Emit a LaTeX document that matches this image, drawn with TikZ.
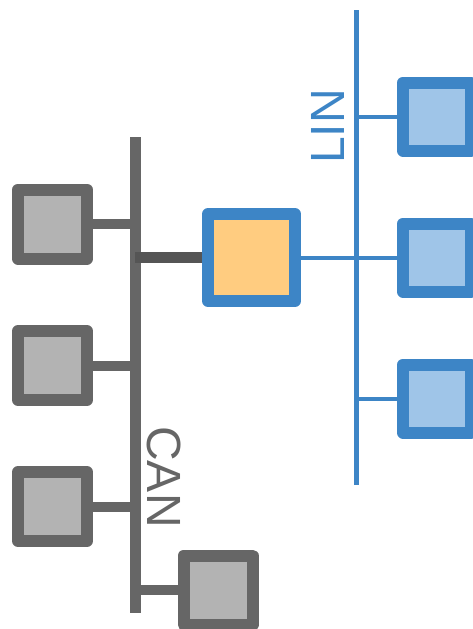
\documentclass[tikz,border=0pt]{standalone}
\usepackage{fontspec}
\setmainfont{Liberation Sans}
\definecolor{cangray}{HTML}{666666}
\definecolor{canfill}{HTML}{B3B3B3}
\definecolor{stubgray}{HTML}{555555}
\definecolor{linblue}{HTML}{3D85C6}
\definecolor{linfill}{HTML}{9FC5E8}
\definecolor{gwfill}{HTML}{FFCC80}
\tikzset{
  canbox/.style={draw=cangray, fill=canfill, line width=12pt, line join=round, minimum size=69pt, inner sep=0pt},
  linbox/.style={draw=linblue, fill=linfill, line width=12pt, line join=round, minimum size=68pt, inner sep=0pt},
  gwbox/.style={draw=linblue, fill=gwfill, line width=12pt, line join=round, minimum size=87pt, inner sep=0pt},
  busname/.style={font=\fontsize{48}{48}\selectfont, inner sep=0pt},
}
\begin{document}
\begin{tikzpicture}[x=1pt,y=-1pt]
  \useasboundingbox (0,0) rectangle (472,629);
  \coordinate (cantop) at (135,137);
  \coordinate (canbot) at (135,613);
  \coordinate (lintop) at (356,10);
  \coordinate (linbot) at (356,485);
  % CAN nodes
  \node[canbox] (ecu1) at (52.5,224) {};
  \node[canbox] (ecu2) at (52.5,365.5) {};
  \node[canbox] (ecu3) at (52.5,506.5) {};
  \node[canbox] (ecu4) at (218,590) {};
  % gateway
  \node[gwbox] (gw) at (251.5,257.5) {};
  % LIN nodes
  \node[linbox] (lin1) at (437,116.5) {};
  \node[linbox] (lin2) at (437,257.5) {};
  \node[linbox] (lin3) at (437,398.5) {};
  % buses
  \draw[cangray, line width=11pt] (cantop) -- (canbot);
  \draw[linblue, line width=5pt] (lintop) -- (linbot);
  \foreach \n in {ecu1,ecu2,ecu3}
    \draw[cangray, line width=10pt] (\n.east) -- (\n.east -| cantop);
  \draw[cangray, line width=10pt] (ecu4.west) -- (ecu4.west -| cantop);
  \draw[stubgray, line width=11pt] (gw.west) -- (gw.west -| cantop);
  \draw[linblue, line width=4pt] (gw.east) -- (gw.east -| lintop);
  \foreach \n in {lin1,lin2,lin3}
    \draw[linblue, line width=4pt] (\n.west) -- (\n.west -| lintop);
  % labels
  \node[busname, text=cangray, rotate=-90] (canname) at (164,477) {CAN};
  \node[busname, text=linblue, rotate=90] (linname) at (327.5,126.5) {LIN};
\end{tikzpicture}
\end{document}
